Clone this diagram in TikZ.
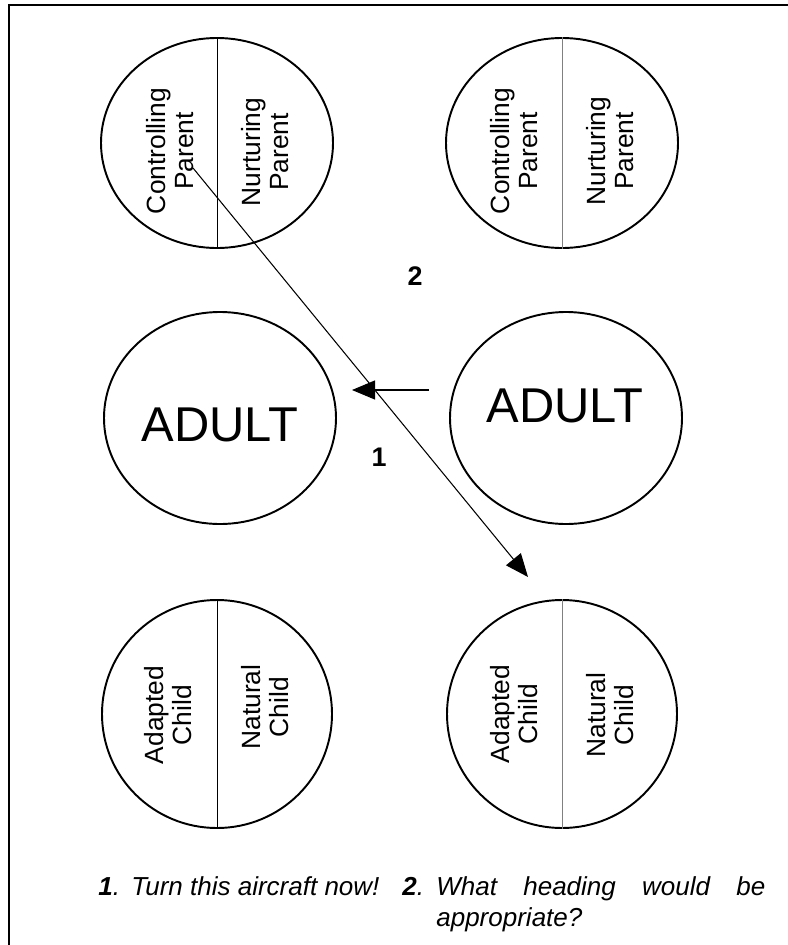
\documentclass[tikz,border=0pt]{standalone}
\usepackage{fontspec}
\setmainfont{Liberation Sans}
\usetikzlibrary{shapes.geometric,arrows.meta}

\tikzset{
  ego/.style={draw,ellipse,line width=1.1pt,inner sep=0pt,minimum width=46.4mm,minimum height=42mm},
  split/.style={line width=0.5pt},
  half/.style={rotate=90,align=center,inner sep=0pt,font=\fontsize{15}{16}\selectfont},
  adult/.style={inner sep=0pt,font=\fontsize{27.8}{30}\selectfont},
  num/.style={inner sep=0pt,font=\bfseries\fontsize{15.3}{18}\selectfont},
  msg/.style={-{Triangle[length=4.6mm,width=3.8mm]},line width=0.6pt},
  caption/.style={anchor=base west,inner sep=0pt,font=\itshape\fontsize{14.8}{17.8}\selectfont}
}

\begin{document}
\begin{tikzpicture}[x=0.2mm,y=-0.2mm]
\useasboundingbox (0,0) rectangle (787,945);
\draw[line width=0.7pt] (9,950) -- (9,5) -- (795,5);

\node[ego] (cp1) at (217,143) {};
\node[ego] (cp2) at (562,143) {};
\draw[split] (cp1.north) -- (cp1.south);
\draw[split,gray] (cp2.north) -- (cp2.south);
\node[half] (cpl1) at (170,151) {Controlling\\Parent};
\node[half] (npl1) at (265,152) {Nurturing\\Parent};
\node[half] (cpl2) at (514,151) {Controlling\\Parent};
\node[half] (npl2) at (610,151) {Nurturing\\Parent};

\node[ego,minimum height=42.4mm] (ad1) at (220,418) {};
\node[ego,minimum height=42.4mm] (ad2) at (566,418) {};
\node[adult] (adl1) at (220,425) {ADULT};
\node[adult] (adl2) at (565,406) {ADULT};

\node[ego,minimum width=46mm,minimum height=45.6mm] (ch1) at (217,714) {};
\node[ego,minimum width=46mm,minimum height=45.6mm] (ch2) at (562,714) {};
\draw[split] (ch1.north) -- (ch1.south);
\draw[split,gray] (ch2.north) -- (ch2.south);
\node[half] (acl1) at (168,715) {Adapted\\Child};
\node[half] (ncl1) at (265,707) {Natural\\Child};
\node[half] (acl2) at (514,714) {Adapted\\Child};
\node[half] (ncl2) at (610,715) {Natural\\Child};

\coordinate (from1) at (193,168);
\coordinate (to1) at (528,577);
\coordinate (from2) at (429,390);
\coordinate (to2) at (352,390);
\draw[msg] (from1) -- (to1);
\draw[msg] (from2) -- (to2);
\node[num] (one) at (379,457) {1};
\node[num] (two) at (415,276) {2};

\node[caption] (n1) at (98,895) {\textbf{1}.};
\node[caption] (c1) at (131,895) {Turn this aircraft now!};
\node[caption] (n2) at (402,895) {\textbf{2}.};
\node[caption,text width=65.8mm,align=justify] (c2) at (436,895) {What heading would be\linebreak appropriate?};
\end{tikzpicture}
\end{document}
